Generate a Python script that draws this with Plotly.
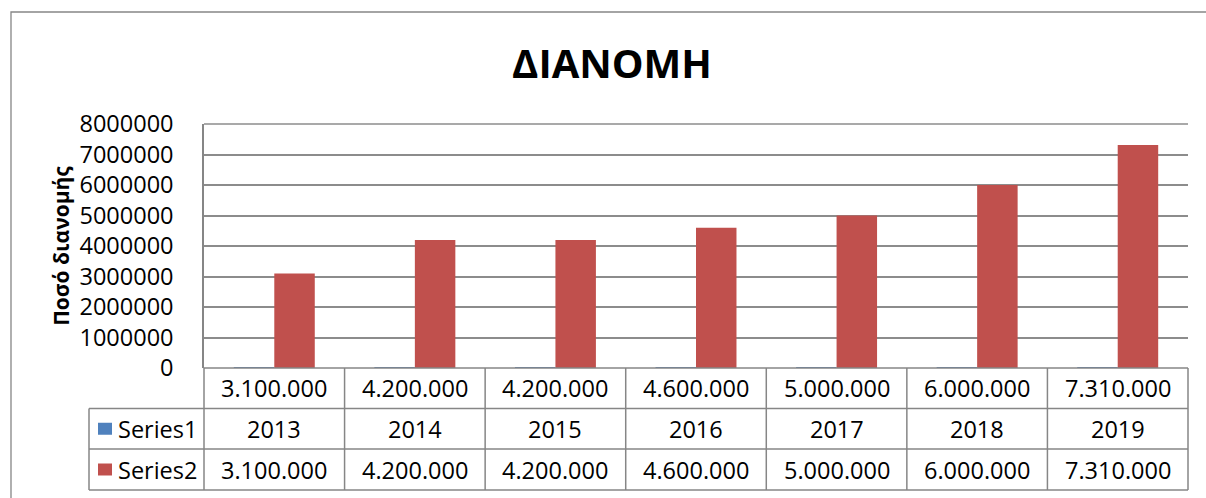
import plotly.graph_objects as go

years = ["2013", "2014", "2015", "2016", "2017", "2018", "2019"]
series1 = [2013, 2014, 2015, 2016, 2017, 2018, 2019]
series2 = [3100000, 4200000, 4200000, 4600000, 5000000, 6000000, 7310000]
series_names = ["Series1", "Series2"]
title_text = "ΔΙΑΝΟΜΗ"
ytitle_text = "Ποσό διανομής"

RED = "#C0504D"
BLUE = "#4F81BD"
GRID = "#8c8c8c"
BORDER = "#868686"
FONT = "Open Sans"

W, H = 1206, 498
ML, MR, MT, MB = 204, 18, 124, 130
PW = W - ML - MR
PH = H - MT - MB


def px(xpix):
    return (xpix - ML) / PW


def py(ypix):
    return (MT + PH - ypix) / PH


def fmt(v):
    return f"{v:,}".replace(",", ".")


fig = go.Figure()
fig.add_trace(go.Bar(x=years, y=series1, name=series_names[0], marker_color=BLUE,
                     marker_line_width=0))
fig.add_trace(go.Bar(x=years, y=series2, name=series_names[1], marker_color=RED,
                     marker_line_width=0))

shapes = []
shapes.append(dict(type="rect", xref="paper", yref="paper", x0=px(11), x1=px(1300),
                   y0=py(600), y1=py(12), line=dict(color=BORDER, width=1.3),
                   fillcolor="rgba(0,0,0,0)", layer="below"))
# top gridline of plot area
shapes.append(dict(type="line", xref="paper", yref="paper", x0=0, x1=1, y0=1, y1=1,
                   line=dict(color=GRID, width=1.5), layer="below"))
row_y = [368, 408.5, 449, 490]
n = len(years)
for i, ry in enumerate(row_y):
    x0 = 0 if i == 0 else px(89)
    shapes.append(dict(type="line", xref="paper", yref="paper", x0=x0, x1=1,
                       y0=py(ry), y1=py(ry), line=dict(color=BORDER, width=1.5)))
for k in range(n + 1):
    xp = k / n
    shapes.append(dict(type="line", xref="paper", yref="paper", x0=xp, x1=xp,
                       y0=py(row_y[0]), y1=py(row_y[-1]), line=dict(color=BORDER, width=1.5)))
shapes.append(dict(type="line", xref="paper", yref="paper", x0=px(89), x1=px(89),
                   y0=py(row_y[1]), y1=py(row_y[-1]), line=dict(color=BORDER, width=1.5)))
for r, col in zip([1, 2], [BLUE, RED]):
    cy = (row_y[r] + row_y[r + 1]) / 2
    shapes.append(dict(type="rect", xref="paper", yref="paper", x0=px(98), x1=px(112),
                       y0=py(cy + 6), y1=py(cy - 6), line=dict(width=0), fillcolor=col))

annotations = []
tfont = dict(family=FONT, size=23.5, color="#000000")
rows = [[fmt(v) for v in series2], [str(v) for v in series1], [fmt(v) for v in series2]]
for r, vals in enumerate(rows):
    cy = (row_y[r] + row_y[r + 1]) / 2
    for k, t in enumerate(vals):
        annotations.append(dict(x=k, xref="x", y=py(cy), yref="paper", text=t,
                                showarrow=False, font=tfont, xanchor="center",
                                yanchor="middle"))
for r, name in zip([1, 2], series_names):
    cy = (row_y[r] + row_y[r + 1]) / 2
    annotations.append(dict(x=px(116), xref="paper", y=py(cy), yref="paper", text=name,
                            showarrow=False, font=tfont, xanchor="left", yanchor="middle"))

fig.update_layout(
    width=W, height=H,
    margin=dict(l=ML, r=MR, t=MT, b=MB),
    paper_bgcolor="white", plot_bgcolor="white",
    barmode="group", bargap=0.424, bargroupgap=0,
    showlegend=False,
    title=dict(text=title_text, x=612 / W, xanchor="center", y=1 - 64 / H, yanchor="middle",
               xref="container", yref="container",
               font=dict(family=FONT, size=40, color="#000000", weight="bold")),
    xaxis=dict(type="category", range=[-0.5, n - 0.5], autorange=False,
               showticklabels=False, showgrid=False, zeroline=False,
               showline=False, ticks=""),
    yaxis=dict(range=[0, 8000000], autorange=False, dtick=1000000, tickformat="d",
               showgrid=True, gridcolor=GRID, gridwidth=1.5,
               zeroline=False, showline=True, linecolor=BORDER, linewidth=1.5,
               ticks="", ticklabelstandoff=24,
               tickfont=dict(family=FONT, size=23.5, color="#000000"),
               title=dict(text=ytitle_text, standoff=4,
                          font=dict(family=FONT, size=21, color="#000000", weight="bold"))),
    shapes=shapes,
    annotations=annotations,
)
fig.write_html("out.html", config={"displayModeBar": False},
               post_script="document.body.style.margin='0';document.body.style.overflow='hidden';")
